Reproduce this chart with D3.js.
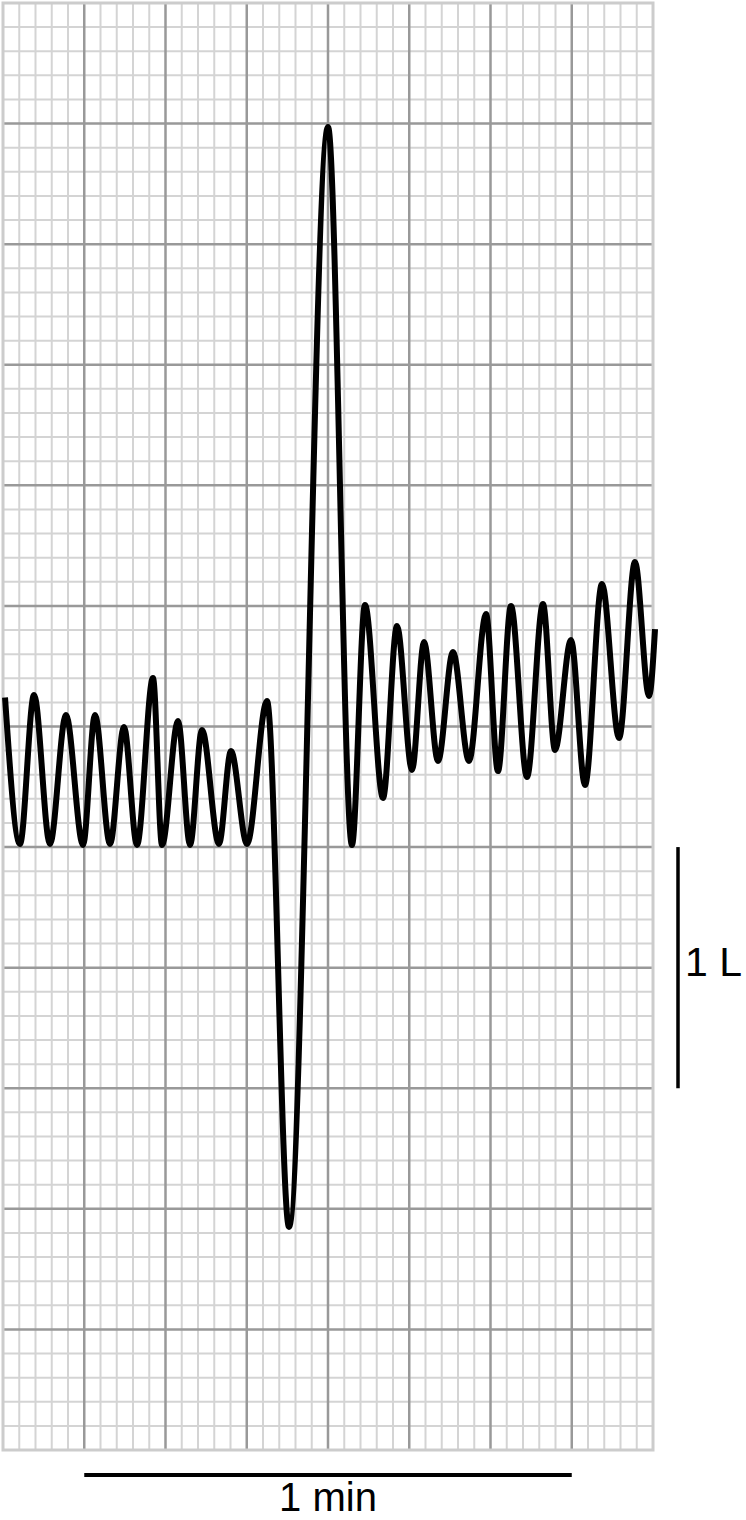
<!DOCTYPE html>
<html>
<head>
<meta charset="utf-8">
<script src="https://cdn.jsdelivr.net/npm/d3@7"></script>
<style>
  html, body { margin: 0; padding: 0; background: #fff; }
  svg { display: block; }
  text { font-family: Arial, "Liberation Sans", Helvetica, sans-serif; fill: #000; }
</style>
</head>
<body>
<div id="chart"></div>
<script>
// Spirometer tracing: time (s) and volume (L)
const timeSec = [0.25, 2.09, 3.82, 5.78, 7.75, 9.85, 11.32, 13.17, 14.89, 16.49, 18.46, 19.57,
  21.54, 23.02, 24.49, 26.58, 28.06, 30.03, 32.49, 35.20, 40.00, 42.95, 44.55, 46.77, 48.49,
  50.34, 51.82, 53.54, 55.38, 57.35, 59.45, 60.92, 62.52, 64.49, 66.46, 67.94, 69.91, 71.63,
  73.72, 75.82, 77.78, 79.51, 80.25];
const volumeL = [3.12, 2.513, 3.131, 2.513, 3.048, 2.509, 3.048, 2.513, 2.998, 2.509, 3.201, 2.509,
  3.023, 2.509, 2.986, 2.513, 2.898, 2.513, 3.106, 0.925, 5.486, 2.509, 3.504, 2.704, 3.417,
  2.82, 3.35, 2.857, 3.309, 2.857, 3.466, 2.815, 3.5, 2.791, 3.508, 2.903, 3.359, 2.757,
  3.591, 2.952, 3.682, 3.126, 3.404];

const timeDomain = [0, 80];      // seconds
const volumeDomain = [0, 6];     // litres
const minorTime = 2, majorTime = 10;
const minorVol = 0.1, majorVol = 0.5;
const timeBar = [10, 70];        // 1 min scale bar
const volumeBar = [2.5, 1.5];    // 1 L scale bar
const timeLabel = "1 min";
const volumeLabel = "1 L";

const W = 746, H = 1520;
const svg = d3.select("#chart").append("svg").attr("width", W).attr("height", H);

const x = d3.scaleLinear().domain(timeDomain).range([3, 653]);
const y = d3.scaleLinear().domain(volumeDomain).range([1450, 3]);

const eps = 1e-6;
const minorT = d3.range(timeDomain[0], timeDomain[1] + eps, minorTime);
const minorV = d3.range(volumeDomain[0], volumeDomain[1] + eps, minorVol);
const isMajor = (v, step) => Math.abs(v / step - Math.round(v / step)) < 1e-4;

const grid = svg.append("g");
// minor
grid.selectAll(".mv").data(minorT.filter(t => !isMajor(t, majorTime))).join("line")
  .attr("x1", d => x(d)).attr("x2", d => x(d)).attr("y1", y(volumeDomain[1])).attr("y2", y(volumeDomain[0]))
  .attr("stroke", "#d4d4d4").attr("stroke-width", 2);
grid.selectAll(".mh").data(minorV.filter(v => !isMajor(v, majorVol))).join("line")
  .attr("y1", d => y(d)).attr("y2", d => y(d)).attr("x1", x(timeDomain[0])).attr("x2", x(timeDomain[1]))
  .attr("stroke", "#d4d4d4").attr("stroke-width", 2);
// major (interior)
const majorT = minorT.filter(t => isMajor(t, majorTime) && t > timeDomain[0] && t < timeDomain[1]);
const majorV = minorV.filter(v => isMajor(v, majorVol) && v > volumeDomain[0] && v < volumeDomain[1]);
grid.selectAll(".Mv").data(majorT).join("line")
  .attr("x1", d => x(d)).attr("x2", d => x(d)).attr("y1", y(volumeDomain[1])).attr("y2", y(volumeDomain[0]))
  .attr("stroke", "#999").attr("stroke-width", 2.5);
grid.selectAll(".Mh").data(majorV).join("line")
  .attr("y1", d => y(d)).attr("y2", d => y(d)).attr("x1", x(timeDomain[0])).attr("x2", x(timeDomain[1]))
  .attr("stroke", "#999").attr("stroke-width", 2.5);
// border
grid.append("rect")
  .attr("x", x(timeDomain[0])).attr("y", y(volumeDomain[1]))
  .attr("width", x(timeDomain[1]) - x(timeDomain[0])).attr("height", y(volumeDomain[0]) - y(volumeDomain[1]))
  .attr("fill", "none").attr("stroke", "#cccccc").attr("stroke-width", 3);

// trace
const pts = timeSec.map((t, i) => [t, volumeL[i]]);
const line = d3.line().x(d => x(d[0])).y(d => y(d[1])).curve(d3.curveMonotoneX);
svg.append("path").datum(pts).attr("d", line)
  .attr("fill", "none").attr("stroke", "#000").attr("stroke-width", 6)
  .attr("stroke-linejoin", "round");

// time scale bar
svg.append("line").attr("x1", x(timeBar[0])).attr("x2", x(timeBar[1]))
  .attr("y1", 1475).attr("y2", 1475).attr("stroke", "#000").attr("stroke-width", 4);
svg.append("text").attr("x", (x(timeBar[0]) + x(timeBar[1])) / 2).attr("y", 1511)
  .attr("text-anchor", "middle").attr("font-size", 40).text(timeLabel);

// volume scale bar
svg.append("line").attr("x1", 678).attr("x2", 678)
  .attr("y1", y(volumeBar[0])).attr("y2", y(volumeBar[1])).attr("stroke", "#000").attr("stroke-width", 3.5);
svg.append("text").attr("x", 685).attr("y", 976)
  .attr("font-size", 41).text(volumeLabel);
</script>
</body>
</html>
